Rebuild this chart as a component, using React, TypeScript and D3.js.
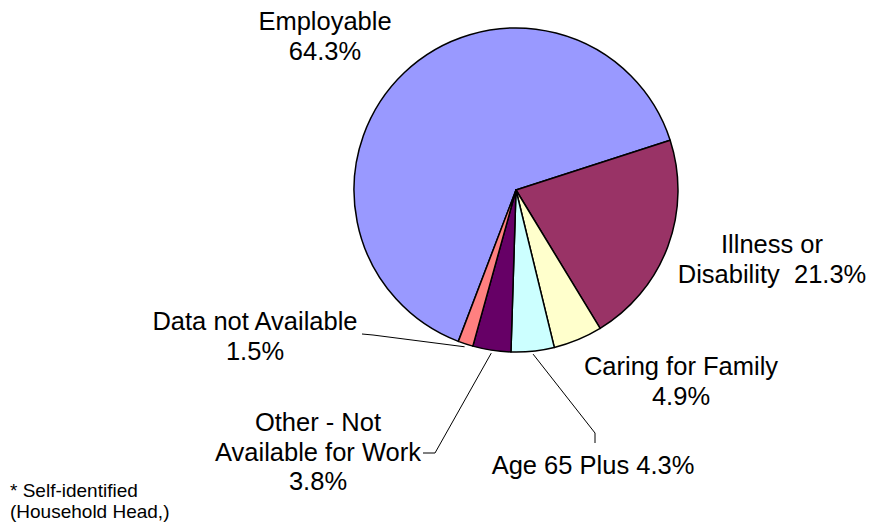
import React from "react";
import * as d3 from "d3";

const categories = [
  "Employable",
  "Illness or Disability",
  "Caring for Family",
  "Age 65 Plus",
  "Other - Not Available for Work",
  "Data not Available",
];
const values = [64.3, 21.3, 4.9, 4.3, 3.8, 1.5];
const colors = ["#9999FF", "#993366", "#FFFFCC", "#CCFFFF", "#660066", "#FF8080"];
const labelLines: string[][] = [
  ["Employable", "64.3%"],
  ["Illness or", "Disability  21.3%"],
  ["Caring for Family", "4.9%"],
  ["Age 65 Plus 4.3%"],
  ["Other - Not", "Available for Work", "3.8%"],
  ["Data not Available", "1.5%"],
];
const footnote = ["* Self-identified", "(Household Head,)"];

const W = 869;
const H = 523;
const cx = 516;
const cy = 190;
const R = 162;
const FS = 25.5;
const LH = 29.5;

// label anchor (center x, first baseline y)
const labelPos: [number, number][] = [
  [325, 30],
  [772, 253],
  [681, 375],
  [593, 474],
  [318, 431],
  [255, 330],
];
// leader elbows: [outer start, elbow] for labels that have leaders
const leaders: { [k: number]: [number, number][] } = {
  5: [[362, 334], [373, 335]],
  4: [[423, 453], [435, 453]],
  3: [[595, 443], [595, 433]],
};

export default function App() {
  const endEmployable = (72.1 * Math.PI) / 180;
  const start = endEmployable - (values[0] / d3.sum(values)) * 2 * Math.PI;
  const pie = d3
    .pie<number>()
    .sort(null)
    .startAngle(start)
    .endAngle(start + 2 * Math.PI)
    .value((d) => d);
  const arcs = pie(values);
  const arcGen = d3.arc<d3.PieArcDatum<number>>().innerRadius(0).outerRadius(R);

  return (
    <svg width={W} height={H} style={{ display: "block", position: "absolute", left: 0, top: 0 }}
      fontFamily="'Liberation Sans', Arial, sans-serif">
      <rect width={W} height={H} fill="#fff" />
      <g transform={`translate(${cx},${cy})`}>
        {arcs.map((a, i) => (
          <path key={i} d={arcGen(a) || ""} fill={colors[i]} stroke="#000" strokeWidth={1.5} strokeLinejoin="round" />
        ))}
      </g>
      {Object.keys(leaders).map((k) => {
        const i = Number(k);
        const a = arcs[i];
        const mid = (a.startAngle + a.endAngle) / 2;
        const px = cx + (R + 3) * Math.sin(mid);
        const py = cy - (R + 3) * Math.cos(mid);
        const pts = [...leaders[i], [px, py]];
        return (
          <polyline key={k} points={pts.map((p) => p.join(",")).join(" ")} fill="none" stroke="#000" strokeWidth={1} />
        );
      })}
      {labelLines.map((lines, i) => (
        <text key={i} x={labelPos[i][0]} y={labelPos[i][1]} fontSize={FS} textAnchor="middle" fill="#000">
          {lines.map((l, j) => (
            <tspan key={j} x={labelPos[i][0]} dy={j === 0 ? 0 : LH} style={{ whiteSpace: "pre" }}>
              {l}
            </tspan>
          ))}
        </text>
      ))}
      <text x={10} y={497} fontSize={19} fill="#000">
        {footnote.map((l, j) => (
          <tspan key={j} x={10} dy={j === 0 ? 0 : 21}>{l}</tspan>
        ))}
      </text>
    </svg>
  );
}
